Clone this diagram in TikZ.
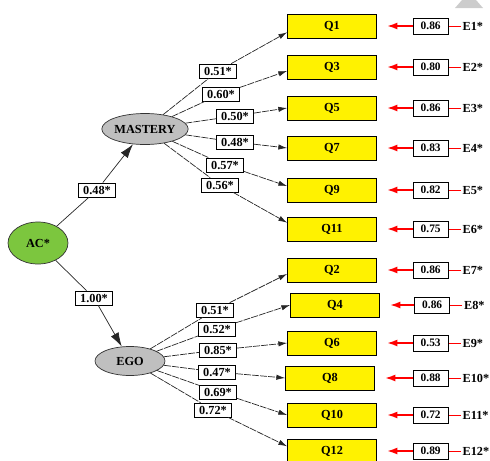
\documentclass[tikz,border=0pt]{standalone}
\usepackage{fontspec}
\setmainfont{Liberation Serif}
\usepackage{tikz}
\usetikzlibrary{arrows.meta, positioning, shapes.geometric}
\definecolor{acgreen}{RGB}{124,198,62}
\definecolor{qyellow}{RGB}{255,242,0}

\begin{document}
\begin{tikzpicture}[
  x=0.02cm, y=-0.02cm,
  font=\fontsize{7}{8}\selectfont\bfseries,
  node distance=0.72cm and 0.72cm,
  latent/.style={ellipse, draw=black!80, fill=black!25, minimum width=1.42cm, minimum height=0.62cm, inner sep=0pt},
  item/.style={draw, fill=qyellow, minimum width=1.78cm, minimum height=0.48cm, inner sep=0pt},
  coef/.style={draw, fill=white, minimum width=0.74cm, minimum height=0.28cm, inner sep=1pt},
  errbox/.style={draw, fill=white, minimum width=0.7cm, minimum height=0.32cm, inner sep=1pt, font=\fontsize{6.5}{7}\selectfont\bfseries},
  errlabel/.style={inner sep=1pt},
  arrow/.style={-{Latex[length=5pt,width=3pt]}, black!85, dash pattern=on 4pt off 0.6pt},
  bigarrow/.style={-{Latex[length=8pt,width=5pt]}, black!85},
  errarrow/.style={-{Latex[length=6pt,width=4pt]}, red, line width=1.1pt, shorten >=0.2cm},
  errline/.style={red, line width=0.5pt}
]
\useasboundingbox (0,0) rectangle (490,460);

% corner mark
\fill[black!20] (455,8) -- (483,8) -- (476,0) -- (462,0) -- cycle;

% Latent nodes
\node[latent, fill=acgreen, minimum width=1.2cm, minimum height=0.84cm] (ac) at (38,243) {AC*};
\node[latent] (mastery) at (145,129) {MASTERY};
\node[latent, minimum width=1.4cm, minimum height=0.58cm] (ego) at (130,361) {EGO};

% Items
\node[item] (q1) at (332,26) {Q1};
\node[item] (q3) at (332,67) {Q3};
\node[item] (q5) at (332,108) {Q5};
\node[item] (q7) at (332,148) {Q7};
\node[item] (q9) at (332,190) {Q9};
\node[item] (q11) at (332,229) {Q11};
\node[item] (q2) at (332,270) {Q2};
\node[item] (q4) at (335,305) {Q4};
\node[item] (q6) at (332,343) {Q6};
\node[item] (q8) at (330,378) {Q8};
\node[item] (q10) at (332,415) {Q10};
\node[item] (q12) at (332,451) {Q12};

% Error terms
\node[errbox, right=of q1] (err1) {0.86};
\node[errbox, right=of q3] (err2) {0.80};
\node[errbox, right=of q5] (err3) {0.86};
\node[errbox, right=of q7] (err4) {0.83};
\node[errbox, right=of q9] (err5) {0.82};
\node[errbox, right=of q11] (err6) {0.75};
\node[errbox, right=of q2] (err7) {0.86};
\node[errbox, right=0.69cm of q4] (err8) {0.86};
\node[errbox, right=of q6] (err9) {0.53};
\node[errbox, right=0.76cm of q8] (err10) {0.88};
\node[errbox, right=of q10] (err11) {0.72};
\node[errbox, right=of q12] (err12) {0.89};
\node[errlabel, right=0.24cm of err1] (e1) {E1*};
\node[errlabel, right=0.24cm of err2] (e2) {E2*};
\node[errlabel, right=0.24cm of err3] (e3) {E3*};
\node[errlabel, right=0.24cm of err4] (e4) {E4*};
\node[errlabel, right=0.24cm of err5] (e5) {E5*};
\node[errlabel, right=0.24cm of err6] (e6) {E6*};
\node[errlabel, right=0.24cm of err7] (e7) {E7*};
\node[errlabel, right=0.24cm of err8] (e8) {E8*};
\node[errlabel, right=0.24cm of err9] (e9) {E9*};
\node[errlabel, right=0.24cm of err10] (e10) {E10*};
\node[errlabel, right=0.24cm of err11] (e11) {E11*};
\node[errlabel, right=0.24cm of err12] (e12) {E12*};

% Coefficients
\node[coef] (w1) at (97,190) {0.48*};
\node[coef] (w2) at (94,298) {1.00*};
\node[coef] (m1) at (218,71) {0.51*};
\node[coef] (m3) at (221,94) {0.60*};
\node[coef] (m5) at (235,116) {0.50*};
\node[coef] (m7) at (235,142) {0.48*};
\node[coef] (m9) at (225,165) {0.57*};
\node[coef] (m11) at (220,185) {0.56*};
\node[coef] (g2) at (215,310) {0.51*};
\node[coef] (g4) at (217,329) {0.52*};
\node[coef] (g6) at (218,350) {0.85*};
\node[coef] (g8) at (217,372) {0.47*};
\node[coef] (g10) at (218,392) {0.69*};
\node[coef] (g12) at (213,410) {0.72*};

% Pointers
\draw[bigarrow] (ac) -- (w1) -- (mastery);
\draw[bigarrow] (ac) -- (w2) -- (ego);
\draw[arrow] (mastery) -- (m1) -- (q1.188);
\draw[arrow] (mastery) -- (m3) -- (q3.185);
\draw[arrow] (mastery) -- (m5) -- (q5.west);
\draw[arrow] (mastery) -- (m7) -- (q7.west);
\draw[arrow] (mastery) -- (m9) -- (q9.175);
\draw[arrow] (mastery) -- (m11) -- (q11.172);
\draw[arrow] (ego) -- (g2) -- (q2.185);
\draw[arrow] (ego) -- (g4) -- (q4.west);
\draw[arrow] (ego) -- (g6) -- (q6.west);
\draw[arrow] (ego) -- (g8) -- (q8.west);
\draw[arrow] (ego) -- (g10) -- (q10.west);
\draw[arrow] (ego) -- (g12) -- (q12.174);
\draw[errline] (e1) -- (err1);
\draw[errline] (e2) -- (err2);
\draw[errline] (e3) -- (err3);
\draw[errline] (e4) -- (err4);
\draw[errline] (e5) -- (err5);
\draw[errline] (e6) -- (err6);
\draw[errline] (e7) -- (err7);
\draw[errline] (e8) -- (err8);
\draw[errline] (e9) -- (err9);
\draw[errline] (e10) -- (err10);
\draw[errline] (e11) -- (err11);
\draw[errline] (e12) -- (err12);
\draw[errarrow] (err1) -- (q1);
\draw[errarrow] (err2) -- (q3);
\draw[errarrow] (err3) -- (q5);
\draw[errarrow] (err4) -- (q7);
\draw[errarrow] (err5) -- (q9);
\draw[errarrow] (err6) -- (q11);
\draw[errarrow] (err7) -- (q2);
\draw[errarrow] (err8) -- (q4);
\draw[errarrow] (err9) -- (q6);
\draw[errarrow] (err10) -- (q8);
\draw[errarrow] (err11) -- (q10);
\draw[errarrow] (err12) -- (q12);
\end{tikzpicture}
\end{document}
